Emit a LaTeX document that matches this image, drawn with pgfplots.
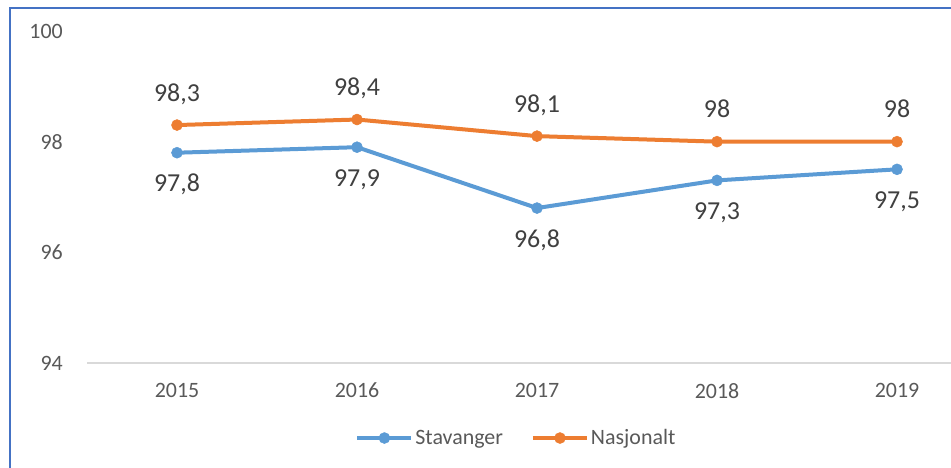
\documentclass[border=0pt]{standalone}
\usepackage{pgfplots}
\pgfplotsset{compat=1.18}
\usepackage{fontspec}
\setmainfont{Carlito}
\definecolor{sblue}{HTML}{5B9BD5}
\definecolor{sorange}{HTML}{ED7D31}
\definecolor{framec}{HTML}{4472C4}
\definecolor{tickgray}{HTML}{595959}
\definecolor{lblgray}{HTML}{404040}
\definecolor{axgray}{HTML}{D9D9D9}
\begin{document}
\begin{tikzpicture}[x=1bp,y=1bp]
\useasboundingbox (0,0) rectangle (951,468);
\fill[white] (0,0) rectangle (951,468);
\draw[framec, line width=2bp] (10,0) -- (10,460) -- (952,460);
\begin{axis}[
  at={(87bp,105bp)}, anchor=south west,
  scale only axis, width=864bp, height=332bp,
  xmin=-0.5, xmax=4.3, ymin=94, ymax=100,
  clip=false,
  axis line style={draw=none}, major tick length=0pt,
  ytick={94,96,98,100}, yticklabels={94,96,98,100},
  xtick={0,1,2,3,4}, xticklabels={2015,2016,2017,2018,2019},
  yticklabel style={font=\fontsize{22}{22}\selectfont, color=tickgray, inner sep=0pt, anchor=east, xshift=-24bp},
  xticklabel style={font=\fontsize{22}{22}\selectfont, color=tickgray, inner sep=0pt, anchor=north, yshift=-20bp},
  legend style={at={(0.497,-0.226)}, anchor=center, draw=none, fill=none, legend columns=2,
    font=\fontsize{22}{22}\selectfont, text=tickgray, inner sep=0pt,
    nodes={inner sep=2bp},
    /tikz/every even column/.append style={column sep=26bp}},
  legend image code/.code={\draw[#1, mark repeat=2, mark phase=2] plot coordinates {(0bp,0bp) (27bp,0bp) (54bp,0bp)};},
  every axis plot/.append style={line width=4bp, mark=*, mark size=5.5bp, mark options={line width=0.5bp}},
]
\draw[axgray, line width=1.5bp] (rel axis cs:0,0) -- (rel axis cs:1,0);
\addplot[sblue, point meta=explicit symbolic, nodes near coords,
  nodes near coords style={anchor=base, yshift=-39bp, inner sep=0pt, color=lblgray, font=\fontsize{26}{26}\selectfont}]
  coordinates {(0,97.8)[97,8] (1,97.9)[97,9] (2,96.8)[96,8] (3,97.3)[97,3] (4,97.5)[97,5]};
\addlegendentry{Stavanger}
\addplot[sorange, point meta=explicit symbolic, nodes near coords,
  nodes near coords style={anchor=base, yshift=24bp, inner sep=0pt, color=lblgray, font=\fontsize{26}{26}\selectfont}]
  coordinates {(0,98.3)[98,3] (1,98.4)[98,4] (2,98.1)[98,1] (3,98.0)[98] (4,98.0)[98]};
\addlegendentry{Nasjonalt}
\end{axis}
\end{tikzpicture}
\end{document}
